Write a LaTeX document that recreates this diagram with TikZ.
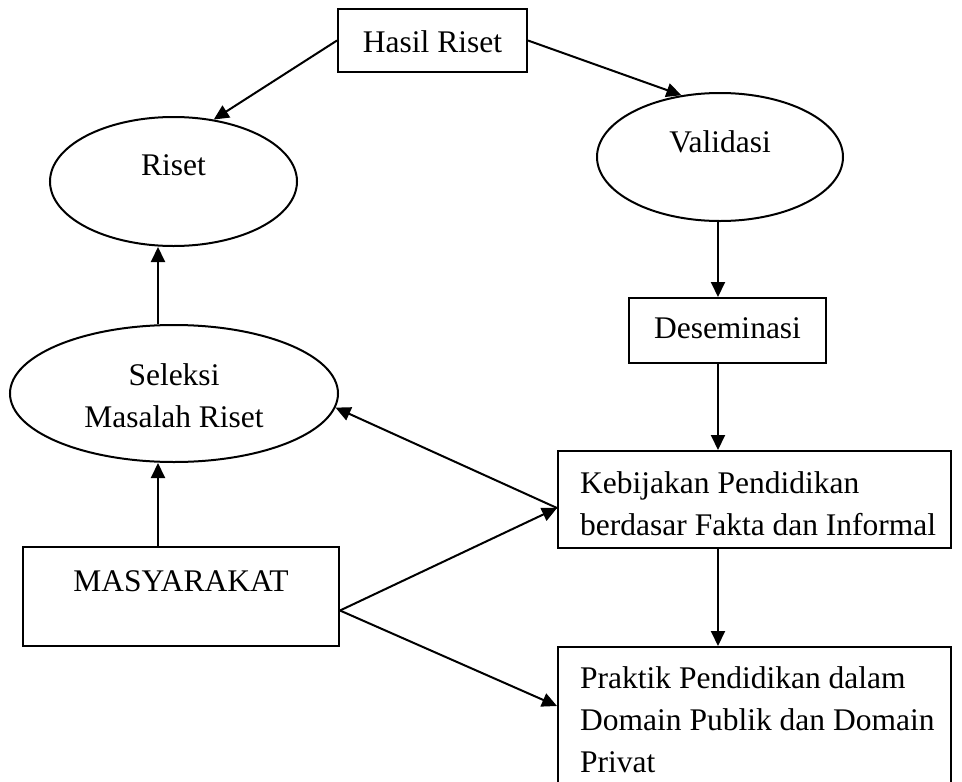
\documentclass[tikz,border=0pt]{standalone}
\usepackage{fontspec}
\setmainfont{Liberation Serif}
\usetikzlibrary{shapes.geometric,arrows.meta,calc}
\newcommand\lnstrut{\rule[-8pt]{0pt}{34pt}}
\begin{document}
\begin{tikzpicture}[x=1pt,y=-1pt,
  every node/.style={font=\fontsize{31.5}{42}\selectfont, inner sep=0pt},
  box/.style={draw, line width=2pt, rectangle},
  oval/.style={draw, line width=2pt, ellipse},
  txt/.style={anchor=north west, align=left},
  arr/.style={line width=2pt, -{Triangle[length=15pt,width=14pt]}}]
\useasboundingbox (0,0) rectangle (962,782);
\clip (0,0) rectangle (962,782);

\node[box, minimum width=189pt, minimum height=63pt, text height=23pt, text depth=0pt] (hasil) at (432.5,40.5) {Hasil Riset};
\node[oval, minimum width=247pt, minimum height=129pt, text height=21pt, text depth=34pt] (riset) at (173.5,181.5) {Riset};
\node[oval, minimum width=246pt, minimum height=128pt, text height=21pt, text depth=31pt] (validasi) at (720,157) {Validasi};
\node[box, minimum width=197pt, minimum height=65pt, text height=21pt, text depth=6pt] (desem) at (727.5,330.5) {Deseminasi};
\node[oval, minimum width=328pt, minimum height=137pt, align=center] (seleksi) at (174,393.5) {\rule[-8pt]{0pt}{42pt}Seleksi\\\lnstrut Masalah Riset};
\node[box, minimum width=316pt, minimum height=99pt, text height=21pt, text depth=32pt] (masy) at (181,596.5) {MASYARAKAT};
\node[box, minimum width=393pt, minimum height=97pt] (kebijakan) at (754.5,499.5) {};
\node[txt] (kebijakantext) at (580,467) {\lnstrut Kebijakan Pendidikan\\\lnstrut berdasar Fakta dan Informal};
\node[box, minimum width=393pt, minimum height=160pt] (praktik) at (754.5,727) {};
\node[txt] (praktiktext) at (580,662) {\lnstrut Praktik Pendidikan dalam\\\lnstrut Domain Publik dan Domain\\\lnstrut Privat};

\coordinate (col) at (718,0);
\coordinate (col2) at (158,0);
\coordinate (kin) at ($(kebijakan.west)+(0,8.5)$);
\coordinate (fan) at ($(masy.east)+(0,14)$);
\coordinate (pin) at ($(praktik.north west)+(0,60)$);

\draw[arr] (hasil.west) -- (riset.57);
\draw[arr] (hasil.east) -- (validasi.122);
\draw[arr] (col |- validasi.south) -- (col |- desem.north);
\draw[arr] (col |- desem.south) -- (col |- kebijakan.north);
\draw[arr] (col |- kebijakan.south) -- (col |- praktik.north);
\draw[arr] (col2 |- seleksi.north) -- (col2 |- riset.south);
\draw[arr] (col2 |- masy.north) -- (col2 |- seleksi.south);
\draw[arr] (kin) -- (seleksi.-5);
\draw[arr] (fan) -- (kin);
\draw[arr] (fan) -- (pin);
\end{tikzpicture}
\end{document}
